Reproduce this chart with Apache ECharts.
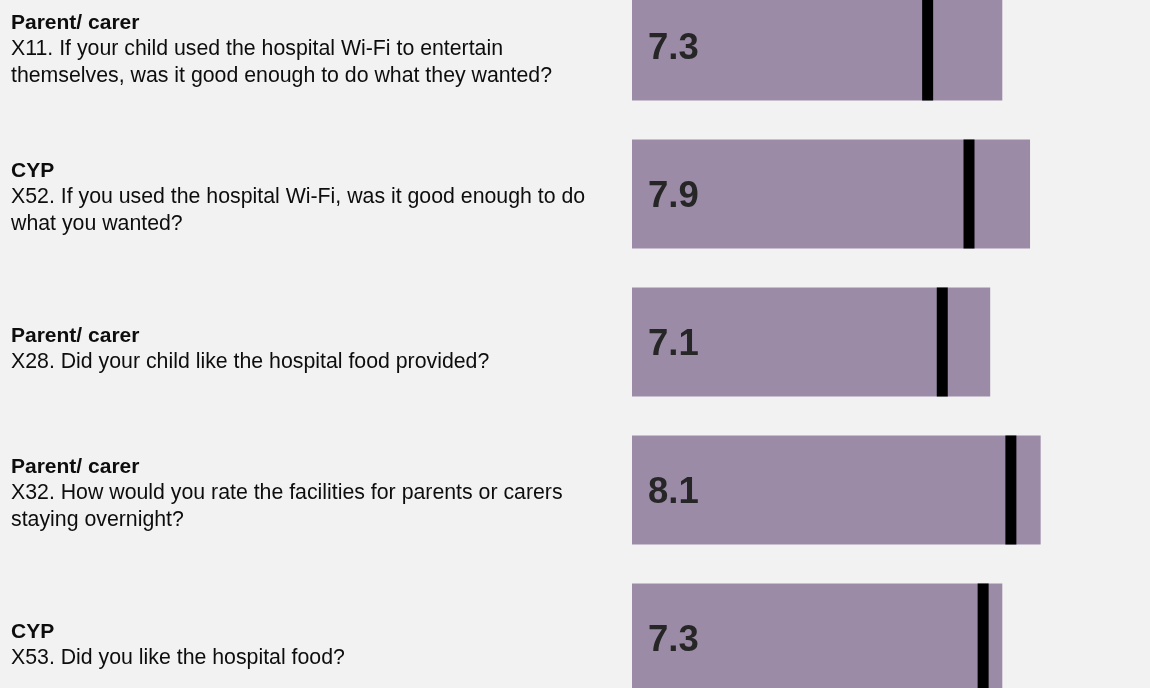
<!DOCTYPE html>
<html>
<head>
<meta charset="utf-8">
<style>
  html, body { margin: 0; padding: 0; background: #f2f2f2; }
  #chart { width: 1150px; height: 688px; }
</style>
<script src="https://cdn.jsdelivr.net/npm/echarts@6/dist/echarts.min.js"></script>
</head>
<body>
<div id="chart"></div>
<script>
// Data
const groups = ['Parent/ carer', 'CYP', 'Parent/ carer', 'Parent/ carer', 'CYP'];
const questions = [
  ['X11. If your child used the hospital Wi-Fi to entertain', 'themselves, was it good enough to do what they wanted?'],
  ['X52. If you used the hospital Wi-Fi, was it good enough to do', 'what you wanted?'],
  ['X28. Did your child like the hospital food provided?'],
  ['X32. How would you rate the facilities for parents or carers', 'staying overnight?'],
  ['X53. Did you like the hospital food?']
];
const scores = [7.34, 7.89, 7.1, 8.1, 7.34];
const markers = [5.86, 6.68, 6.15, 7.51, 6.96];

const color_bar = '#9b8ba7';
const font = '"Liberation Sans", Arial, sans-serif';

// =====================================================================================================================
// Libellés de l'axe : titre en gras + question
const categories = groups.map((g, i) => {
  return {
    value: '{b|' + g + '}\n' + questions[i].map(q => '{r|' + q + '}').join('\n'),
    textStyle: {
      align: 'left',
      padding: [questions[i].length > 1 ? 7 : 14, 0, 0, 0]
    }
  };
});

const chartDom = document.getElementById('chart');
const chart = echarts.init(chartDom);
let option = {
  backgroundColor: '#f2f2f2',
  animation: false,
  grid: {
    left: 632,
    width: 504.5,
    top: -28,
    height: 740,
    containLabel: false,
    outerBoundsMode: 'none'
  },
  xAxis: {
    type: 'value',
    min: 0,
    max: 10,
    show: false
  },
  yAxis: {
    type: 'category',
    inverse: true,
    data: categories,
    axisLine: {show: false},
    axisTick: {show: false},
    splitLine: {show: false},
    axisLabel: {
      align: 'left',
      margin: 621,
      rich: {
        b: {
          fontFamily: font,
          fontWeight: 'bold',
          fontSize: 21,
          lineHeight: 26.5,
          color: '#0d0d0d'
        },
        r: {
          fontFamily: font,
          fontSize: 21.3,
          lineHeight: 26.5,
          color: '#0d0d0d'
        }
      }
    }
  },
  series: [
    {
      name: 'Score',
      type: 'bar',
      barWidth: 109,
      data: scores,
      itemStyle: {
        color: color_bar
      },
      label: {
        show: true,
        position: 'insideLeft',
        distance: 16,
        offset: [0, 3],
        fontFamily: font,
        fontWeight: 'bold',
        fontSize: 36.5,
        color: '#262626',
        formatter: function (d) {
          'use strict';
          return d.value.toFixed(1);
        }
      },
      silent: true
    },
    {
      name: 'Marker',
      type: 'scatter',
      symbol: 'rect',
      symbolSize: [11, 109],
      data: markers,
      itemStyle: {
        color: '#000',
        opacity: 1
      },
      z: 3,
      silent: true
    }
  ]
};
option && chart.setOption(option);
</script>
</body>
</html>
